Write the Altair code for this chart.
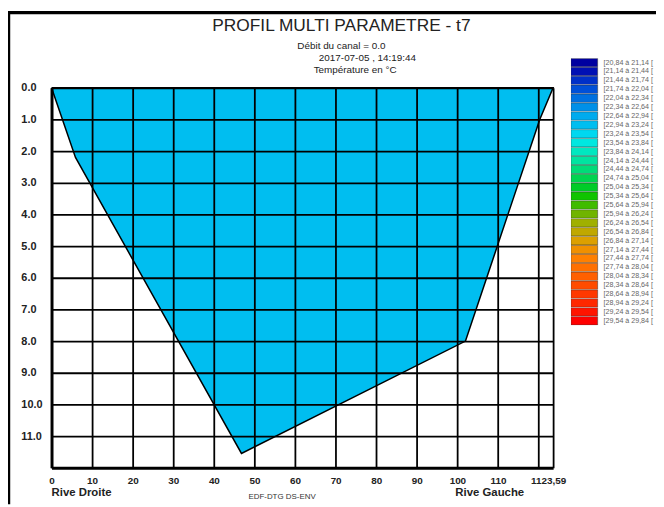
import altair as alt
import pandas as pd

NBSP = "\u00a0"
ZWSP = "\u200b"
FONT = "Liberation Sans"

# ---- text ----
title_text = "PROFIL MULTI PARAMETRE - t7"
subtitle_lines = [
    "Débit du canal = 0.0",
    ZWSP + NBSP * 19 + "2017-07-05 , 14:19:44",
    ZWSP + NBSP * 10 + "Température en °C",
]

# ---- legend classes (°C) ----
bin_labels = [
    "[20,84 à 21,14 [", "[21,14 à 21,44 [", "[21,44 à 21,74 [", "[21,74 à 22,04 [",
    "[22,04 à 22,34 [", "[22,34 à 22,64 [", "[22,64 à 22,94 [", "[22,94 à 23,24 [",
    "[23,24 à 23,54 [", "[23,54 à 23,84 [", "[23,84 à 24,14 [", "[24,14 à 24,44 [",
    "[24,44 à 24,74 [", "[24,74 à 25,04 [", "[25,04 à 25,34 [", "[25,34 à 25,64 [",
    "[25,64 à 25,94 [", "[25,94 à 26,24 [", "[26,24 à 26,54 [", "[26,54 à 26,84 [",
    "[26,84 à 27,14 [", "[27,14 à 27,44 [", "[27,44 à 27,74 [", "[27,74 à 28,04 [",
    "[28,04 à 28,34 [", "[28,34 à 28,64 [", "[28,64 à 28,94 [", "[28,94 à 29,24 [",
    "[29,24 à 29,54 [", "[29,54 à 29,84 [",
]
bin_colors = [
    "#0000A0", "#0010B4", "#0030C8", "#0050D8", "#0070E0", "#0090E8", "#00ABEE", "#00BEF0",
    "#00D8F0", "#00E8E0", "#00E8C0", "#00E4A0", "#00DC78", "#00D450", "#00CC28", "#10C400",
    "#40BC00", "#70B400", "#A0B000", "#C0A800", "#DCA000", "#F09000", "#FF8000", "#FF7000",
    "#FF6000", "#FF4C00", "#FF3800", "#FF2800", "#FF1400", "#FF0000",
]

# ---- cross-section profile ----
prof_x = [0.0, 5.9, 46.8, 102.0, 120.3, 123.59]
prof_depth = [0.0, 2.2, 11.55, 8.0, 1.0, 0.0]
prof_surface = [0.0, 0.0, 0.0, 0.0, 0.0, 0.0]
water_bin = "[22,94 à 23,24 ["

# ---- axes ----
x_max = 123.59
depth_max = 12.0
x_ticks = [0, 10, 20, 30, 40, 50, 60, 70, 80, 90, 100, 110, 120, 123.59]
y_ticks = [0, 1, 2, 3, 4, 5, 6, 7, 8, 9, 10, 11]

# ---- annotations ----
bank_text = ["Rive Droite", "Rive Gauche"]
bank_x = [0.0, 99.5]
bank_depth = [12.8, 12.8]
credit_text = ["EDF-DTG DS-ENV"]
credit_x = [56.8]
credit_depth = [12.93]

profile = pd.DataFrame({"x": prof_x, "depth": prof_depth, "surface": prof_surface,
                        "bin": [water_bin] * len(prof_x)})
outline = pd.DataFrame({"x": prof_x + [prof_x[0]], "depth": prof_depth + [prof_depth[0]],
                        "k": list(range(len(prof_x) + 1))})
banks = pd.DataFrame({"x": bank_x, "depth": bank_depth, "txt": bank_text})
credit = pd.DataFrame({"x": credit_x, "depth": credit_depth, "txt": credit_text})

x_scale = alt.Scale(domain=[0, x_max], nice=False, zero=False)
y_scale = alt.Scale(domain=[0, depth_max], reverse=True, nice=False, zero=False)

x_axis = alt.Axis(
    values=x_ticks, title=None, grid=True, gridColor="black", gridWidth=1.8, gridOpacity=1,
    domainColor="black", domainWidth=3, ticks=False, labelFlush=False, labelOverlap=False,
    labelExpr="datum.value == 120 ? '' : (datum.value > 123 ? '1123,59' : datum.label)",
    labelOffset={"condition": {"test": "datum.value > 123", "value": -5}, "value": 0},
    labelPadding=8, labelFont=FONT, labelFontSize=10, labelFontWeight="bold",
    labelColor="#222", zindex=1,
)
y_axis = alt.Axis(
    values=y_ticks, format=".1f", title=None, grid=True, gridColor="black", gridWidth=1.8,
    gridOpacity=1, domainColor="black", domainWidth=3, ticks=False, labelAlign="left",
    labelPadding=31, labelFont=FONT, labelFontSize=11, labelFontWeight="bold",
    labelColor="#222", labelOverlap=False, zindex=1,
)
X = alt.X("x:Q", scale=x_scale, axis=x_axis)
Y = alt.Y("depth:Q", scale=y_scale, axis=y_axis)

legend = alt.Legend(
    orient="none", legendX=525, legendY=-30, title=None,
    symbolType="M-3.375,-1.0625H3.375V1.0625H-3.375Z", symbolSize=64,
    symbolStrokeColor="#333", symbolStrokeWidth=0.5, symbolOffset=9, clipHeight=9.0,
    labelOffset=15, rowPadding=0, padding=0, labelFont=FONT, labelFontSize=7.2,
    labelColor="#666", labelLimit=0,
)

water = alt.Chart(profile).mark_area(opacity=1, strokeWidth=0).encode(
    x=X, y=Y, y2=alt.Y2("surface:Q"),
    color=alt.Color("bin:N", scale=alt.Scale(domain=bin_labels, range=bin_colors), legend=legend),
)
edge = alt.Chart(outline).mark_line(color="black", strokeWidth=1.5).encode(
    x=X, y=Y, order=alt.Order("k:Q"))

bank_labels = alt.Chart(banks).mark_text(
    align="left", baseline="middle", font=FONT, fontSize=11.5, fontWeight="bold", color="#222"
).encode(x=X, y=Y, text="txt:N")

credit_label = alt.Chart(credit).mark_text(
    align="center", baseline="middle", font=FONT, fontSize=8, color="#333"
).encode(x=X, y=Y, text="txt:N")

one = alt.Data(values=[{}])
top_border = alt.Chart(one).mark_rule(color="black", strokeWidth=3.5).encode(
    x=alt.value(-44), x2=alt.value(611), y=alt.value(-76))
left_border = alt.Chart(one).mark_rule(color="black", strokeWidth=2.5).encode(
    x=alt.value(-43), y=alt.value(-76), y2=alt.value(421))

chart = alt.layer(water, edge, bank_labels, credit_label, top_border, left_border).properties(
    width=507, height=384,
    padding={"left": 44, "top": 78, "right": 104, "bottom": 35},
    autosize=alt.AutoSizeParams(type="none"),
    background="white",
    title=alt.TitleParams(
        text=title_text, subtitle=subtitle_lines, anchor="middle", frame="group", dx=39.5,
        dy=65, offset=0,
        font=FONT, fontSize=17.5, fontWeight="normal", color="#222",
        subtitleFont=FONT, subtitleFontSize=10, subtitleColor="#222",
        subtitleLineHeight=12, subtitlePadding=7,
    ),
).configure_view(stroke=None).configure_legend(rowPadding=0)

chart.save("out.html", embed_options={"renderer": "svg", "actions": False})
